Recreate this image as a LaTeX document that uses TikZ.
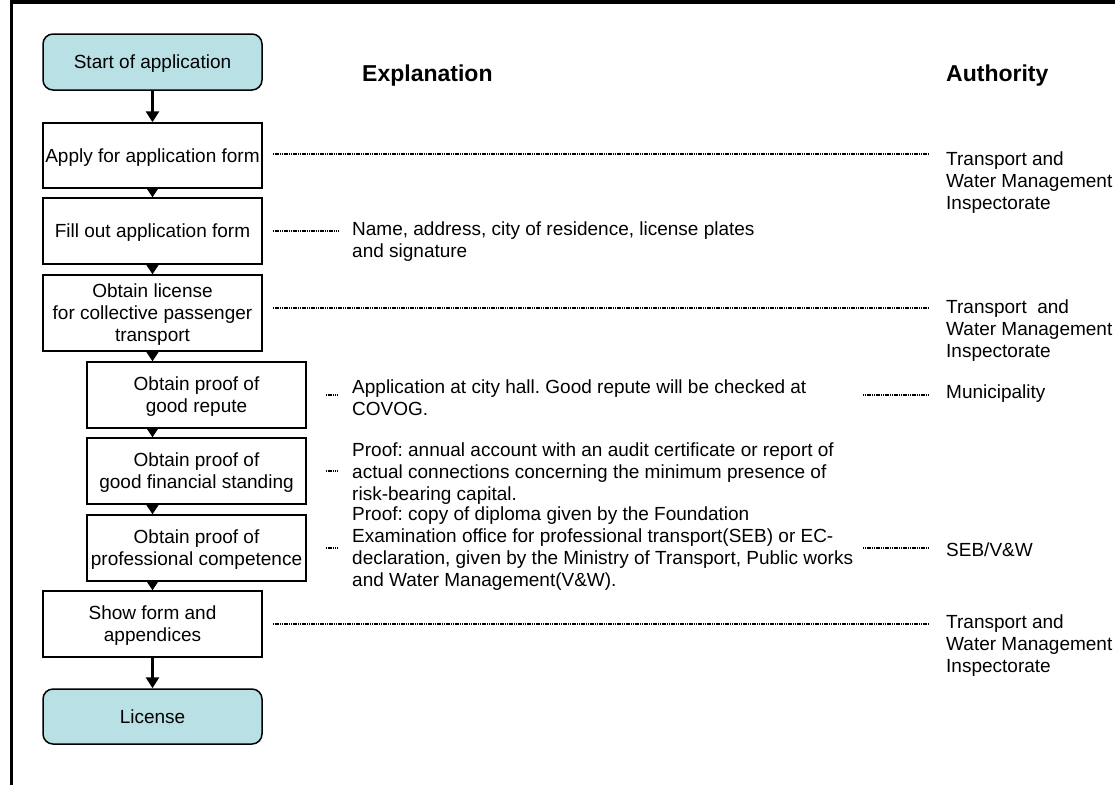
\documentclass[tikz,border=0pt]{standalone}
\usepackage{fontspec}
\setmainfont{Liberation Sans}
\usetikzlibrary{arrows.meta}
\definecolor{termfill}{RGB}{185,224,228}
\newcommand{\dgmfont}{\fontsize{19}{22}\selectfont}
\newcommand{\dgmhead}{\fontsize{23}{26}\selectfont\bfseries}
\frenchspacing
\begin{document}
\begin{tikzpicture}[x=1pt,y=-1pt,
  box/.style={draw, line width=1.5pt, minimum width=219pt, inner sep=0pt, text depth=0pt, align=center, font=\dgmfont},
  term/.style={box, rounded corners=10pt, fill=termfill},
  expl/.style={anchor=west, align=left, inner xsep=14pt, inner ysep=0pt, font=\dgmfont},
  auth/.style={anchor=west, align=left, inner xsep=18pt, inner ysep=0pt, font=\dgmfont},
  head/.style={anchor=base west, inner sep=0pt, font=\dgmhead},
  dotln/.style={line width=1.6pt, dash pattern=on 1.2pt off 0.6pt},
  flow/.style={line width=1pt, -{Triangle[width=13pt,length=10pt]}},
  bigflow/.style={line width=3pt, -{Triangle[width=13pt,length=11pt]}},
  frame/.style={line width=3.2pt}
]
\useasboundingbox (0,0) rectangle (1115,785);
% frame remnants
\draw[line width=0.8pt] (10,0.4) -- (1115,0.4);
\foreach \tx in {10.7,135,299,478,725,740,760} \draw[line width=1pt] (\tx,0) -- (\tx,3);
\draw[frame] (10,2.6) -- (1115,2.6);
\draw[frame] (11.5,1.2) -- (11.5,785);

% headers
\node[head] (hexp) at (362,81) {Explanation};
\node[head] (hauth) at (946,81) {Authority};

% flow boxes
\node[term, minimum height=56pt] (start) at (152.5,62) {Start of application};
\node[box, minimum height=65pt] (apply) at (152.5,155.5) {Apply for application form};
\node[box, minimum height=66pt] (fill) at (152.5,231) {Fill out application form};
\node[box, minimum height=76pt] (lic) at (152.5,313) {Obtain license\\for collective passenger\\transport};
\node[box, minimum height=66pt] (rep) at (196.5,395) {Obtain proof of\\good repute};
\node[box, minimum height=66pt] (fin) at (196.5,471) {Obtain proof of\\good financial standing};
\node[box, minimum height=66pt] (comp) at (196.5,548) {Obtain proof of\\professional competence};
\node[box, minimum height=66pt] (show) at (152.5,624) {Show form and\\appendices};
\node[term, minimum height=55pt] (license) at (152.5,716.5) {License};

% explanations
\node[expl] (e2) at (338,241.5) {Name, address, city of residence, license plates\\and signature};
\node[expl] (e4) at (338,398) {Application at city hall. Good repute will be checked at\\COVOG.};
\node[expl] (e5) at (338,474) {Proof: annual account with an audit certificate or report of\\actual connections concerning the minimum presence of\\risk-bearing capital.};
\node[expl] (e6) at (338,548.5) {Proof: copy of diploma given by the Foundation\\Examination office for professional transport(SEB) or EC-\\declaration, given by the Ministry of Transport, Public works\\and Water Management(V\&W).};

% authorities
\node[auth] (a1) at (928,183) {Transport and\\Water Management\\Inspectorate};
\node[auth] (a3) at (928,331) {Transport~ and\\Water Management\\Inspectorate};
\node[auth] (a4) at (928,394) {Municipality};
\node[auth] (a6) at (928,550) {SEB/V\&W};
\node[auth] (a7) at (928,646) {Transport and\\Water Management\\Inspectorate};

% flow arrows
\draw[bigflow] (start.south) -- (apply.north);
\draw[flow] (apply.south) -- (fill.north);
\draw[flow] (fill.south) -- (lic.north);
\draw[flow] (lic.south) -- (rep.north -| lic.south);
\draw[flow] (rep.south -| lic.south) -- (fin.north -| lic.south);
\draw[flow] (fin.south -| lic.south) -- (comp.north -| lic.south);
\draw[flow] (comp.south -| lic.south) -- (show.north);
\draw[bigflow] (show.south) -- (license.north);

% dotted connectors
\draw[dotln, shorten <=10pt] ([yshift=1.5pt]apply.east) -- ([yshift=1.5pt]apply.east -| a1.west);
\draw[dotln, shorten <=10pt] (fill.east) -- (fill.east -| e2.west);
\draw[dotln, shorten <=10pt] ([yshift=5pt]lic.east) -- ([yshift=5pt]lic.east -| a3.west);
\draw[dotln, shorten <=19pt] (rep.east) -- (rep.east -| e4.west);
\draw[dotln] ([xshift=-65pt,yshift=-1pt]a4.west) -- ([yshift=-1pt]a4.west);
\draw[dotln, shorten <=19pt] (fin.east) -- (fin.east -| e5.west);
\draw[dotln, shorten <=19pt] (comp.east) -- (comp.east -| e6.west);
\draw[dotln] ([xshift=-65pt,yshift=2pt]a6.west) -- ([yshift=2pt]a6.west);
\draw[dotln, shorten <=10pt] (show.east) -- (show.east -| a7.west);
\end{tikzpicture}
\end{document}
